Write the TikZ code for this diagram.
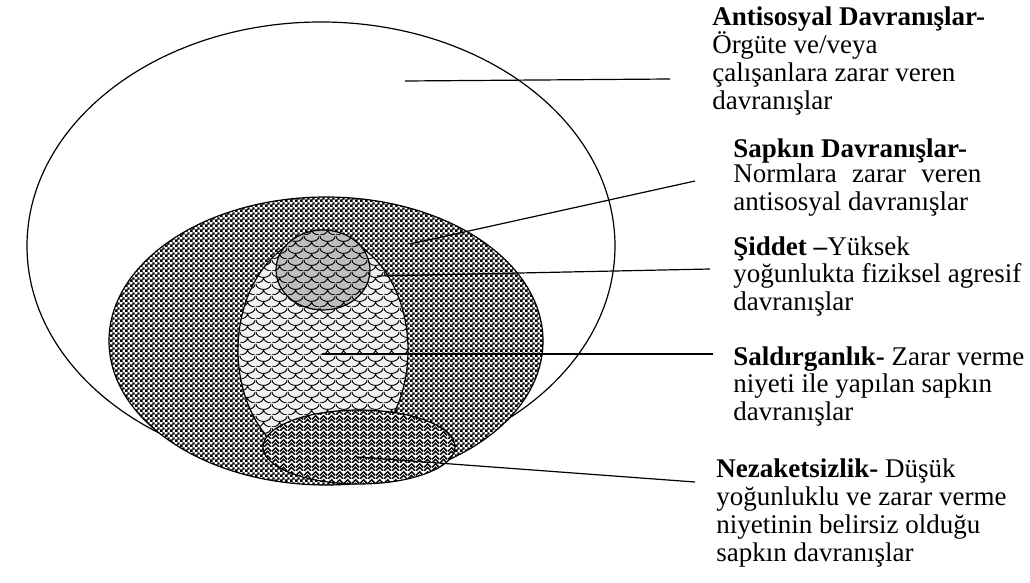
\documentclass[tikz,border=0pt]{standalone}
\usepackage{fontspec}
\setmainfont{Liberation Serif}
\usetikzlibrary{patterns}
\definecolor{siddetgray}{HTML}{BDBDBD}
\definecolor{saldirigray}{HTML}{F2F2F2}

% fine checkerboard for the deviant-behaviour ellipse
\pgfdeclarepatternformonly{finecheck}{\pgfqpoint{0pt}{0pt}}{\pgfqpoint{2.4pt}{2.4pt}}{\pgfqpoint{2.4pt}{2.4pt}}{%
  \pgfpathrectangle{\pgfqpoint{0pt}{0pt}}{\pgfqpoint{1.4pt}{1.4pt}}%
  \pgfpathrectangle{\pgfqpoint{1.2pt}{1.2pt}}{\pgfqpoint{1.2pt}{1.2pt}}%
  \pgfusepath{fill}}
% fish scales
\pgfdeclarepatternformonly{scales}{\pgfqpoint{0pt}{0pt}}{\pgfqpoint{8pt}{6pt}}{\pgfqpoint{8pt}{6pt}}{%
  \pgfsetlinewidth{0.5pt}%
  \pgfpathmoveto{\pgfqpoint{0pt}{6pt}}\pgfpatharc{180}{360}{4pt and 3pt}%
  \pgfpathmoveto{\pgfqpoint{0pt}{0pt}}\pgfpatharc{270}{360}{4pt and 3pt}%
  \pgfpathmoveto{\pgfqpoint{4pt}{3pt}}\pgfpatharc{180}{270}{4pt and 3pt}%
  \pgfusepath{stroke}}
% zigzag weave
\pgfdeclarepatternformonly{weave}{\pgfqpoint{0pt}{0pt}}{\pgfqpoint{4pt}{4pt}}{\pgfqpoint{4pt}{4pt}}{%
  \pgfsetlinewidth{0.8pt}%
  \pgfpathmoveto{\pgfqpoint{0pt}{0pt}}\pgfpathlineto{\pgfqpoint{2pt}{2pt}}\pgfpathlineto{\pgfqpoint{4pt}{0pt}}%
  \pgfpathmoveto{\pgfqpoint{0pt}{2pt}}\pgfpathlineto{\pgfqpoint{2pt}{4pt}}\pgfpathlineto{\pgfqpoint{4pt}{2pt}}%
  \pgfusepath{stroke}}

\begin{document}
\begin{tikzpicture}[x=0.5pt, y=-0.5pt,
  lbl/.style={anchor=base west, inner sep=0pt, align=left, font=\fontsize{13.5}{14}\selectfont},
  ptr/.style={draw, line width=0.6pt},
  ring/.style={draw, line width=0.6pt}
]
  \useasboundingbox (0,0) rectangle (1030,583);

  % Sets
  \draw[ring, fill=white] (321,246) ellipse [x radius=294, y radius=224];
  \draw[ring, fill=white, postaction={pattern=finecheck}] (326,341) ellipse [x radius=217, y radius=144];
  \draw[ring, fill=saldirigray, postaction={pattern=scales}] (323,350) ellipse [x radius=85, y radius=115];
  \draw[ring, fill=siddetgray, postaction={pattern=scales}] (323,270) ellipse [x radius=47, y radius=40];
  \draw[ring, fill=white, postaction={pattern=weave}] (359,447) ellipse [x radius=96, y radius=37];

  % Labels (anchored at the baseline of the last line)
  \node[lbl] (anti) at (712,110) {\textbf{Antisosyal Davranışlar-}\\Örgüte ve/veya\\çalışanlara zarar veren\\davranışlar};
  \node[lbl] (sapkin) at (733,211) {\textbf{Sapkın Davranışlar-}\\[-1.5pt]\makebox[124pt][s]{Normlara zarar veren}\\antisosyal davranışlar};
  \node[lbl] (siddet) at (733,311) {\textbf{Şiddet –}Yüksek\\yoğunlukta fiziksel agresif\\davranışlar};
  \node[lbl] (saldiri) at (733,421) {\textbf{Saldırganlık-} Zarar verme\\niyeti ile yapılan sapkın\\davranışlar};
  \node[lbl] (nezaket) at (716,561) {\textbf{Nezaketsizlik-} Düşük\\yoğunluklu ve zarar verme\\niyetinin belirsiz olduğu\\sapkın davranışlar};

  % Pointers
  \coordinate (a1) at (405,81);  \coordinate (a2) at (670,79);
  \coordinate (b1) at (410,244); \coordinate (b2) at (695,181);
  \coordinate (c1) at (377,276); \coordinate (c2) at (710,269);
  \coordinate (d1) at (322,354); \coordinate (d2) at (713,354);
  \coordinate (e1) at (357,457); \coordinate (e2) at (695,482);
  \draw[ptr] (a1) -- (a2);
  \draw[ptr] (b1) -- (b2);
  \draw[ptr] (c1) -- (c2);
  \draw[ptr] (d1) -- (d2);
  \draw[ptr] (e1) -- (e2);
\end{tikzpicture}
\end{document}
